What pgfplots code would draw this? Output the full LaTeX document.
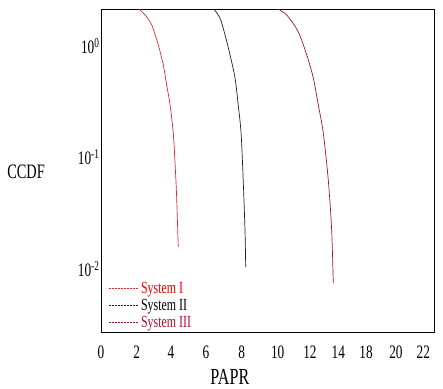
\documentclass[border=0pt]{standalone}
\usepackage{pgfplots}
\pgfplotsset{compat=1.18}
\usepackage{fontspec}
\setmainfont{Liberation Serif}[FakeStretch=0.70]
\definecolor{sysI}{RGB}{225,40,50}
\definecolor{sysII}{RGB}{30,30,30}
\definecolor{sysIII}{RGB}{165,20,45}
\definecolor{txtI}{RGB}{240,0,0}
\definecolor{txtIII}{RGB}{175,15,45}
\begin{document}
\begin{tikzpicture}
\path[use as bounding box] (-101pt,-56pt) rectangle (342pt,332pt);
\begin{axis}[
  at={(0pt,0pt)}, anchor=south west,
  scale only axis, width=333pt, height=323pt,
  ymode=log,
  xmin=0, xmax=18.71,
  ymin=0.00278, ymax=2.19,
  axis line style={black, line width=0.9pt},
  major tick length=0pt, minor tick length=0pt,
  xtick={0,2.01,3.93,5.90,7.90,9.93,11.74,13.33,14.89,16.57,18.11},
  xticklabels={0,2,4,6,8,10,12,14,18,20,22},
  ytick={0.01,0.1,1},
  yticklabels={10\textsuperscript{-2},10\textsuperscript{-1},10\textsuperscript{0}},
  /pgf/number format/assume math mode=true,
  tick label style={font=\fontsize{19}{22}\selectfont},
  xticklabel style={anchor=base, yshift=-26pt},
  yticklabel style={anchor=base east, yshift=-6.5pt, xshift=2pt},
  xlabel={PAPR},
  xlabel style={at={(axis description cs:0.387,-0.138)}, anchor=center, font=\fontsize{23}{25}\selectfont},
  ylabel={CCDF},
  ylabel style={at={(axis description cs:-0.225,0.495)}, anchor=center, rotate=-90, font=\fontsize{20.5}{23}\selectfont},
  legend style={at={(axis description cs:0.018,0.0)}, anchor=south west, draw=none, fill=none,
    font=\fontsize{17}{19}\selectfont, row sep=0pt, inner sep=1pt},
  legend cell align=left,
  legend image code/.code={\draw[#1, dash pattern=on 2pt off 1pt, line width=0.9pt] (0pt,0pt) -- (30pt,0pt);},
  clip=true,
]
\addplot[sysI, line width=0.7pt, smooth, tension=0.5] coordinates {
(2.10,2.22) (2.47,1.94) (2.85,1.575) (3.22,1.04) (3.50,0.690) (3.69,0.456)
(3.88,0.302) (4.06,0.169) (4.16,0.0912) (4.25,0.0452) (4.34,0.0161)};
\addlegendentry{\textcolor{txtI}{System I}}
\addplot[sysII, line width=0.7pt, smooth, tension=0.5] coordinates {
(6.31,2.22) (6.69,1.81) (6.97,1.28) (7.25,0.848) (7.53,0.527) (7.71,0.302)
(7.87,0.169) (7.99,0.0641) (8.09,0.0228) (8.13,0.01064)};
\addlegendentry{System II}
\addplot[sysIII, line width=0.7pt, smooth, tension=0.5] coordinates {
(9.87,2.22) (10.43,1.94) (11.08,1.37) (11.56,0.848) (11.93,0.527) (12.21,0.302)
(12.49,0.169) (12.77,0.0641) (12.96,0.0228) (13.05,0.00764)};
\addlegendentry{\textcolor{txtIII}{System III}}
\end{axis}
\end{tikzpicture}
\end{document}
